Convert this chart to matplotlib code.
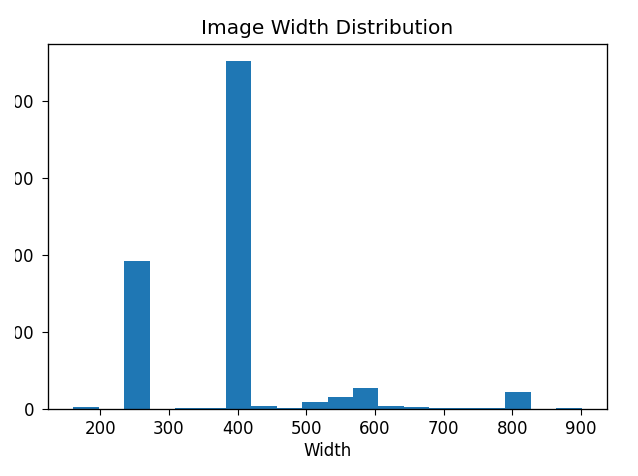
import numpy as np
import matplotlib
matplotlib.use('Agg')
from matplotlib import pyplot as plt
from matplotlib.transforms import Bbox, TransformedBbox

# гистограмма ширины изображений (20 бинов)
min_width = 161
max_width = 901
n_bins = 20
counts = [4, 0, 384, 0, 2, 2, 902, 7, 2, 16,
          29, 52, 7, 3, 1, 1, 1, 42, 0, 1]
y_ticks = [0, 200, 400, 600, 800]

bin_edges = np.linspace(min_width, max_width, n_bins + 1)

# скриншот немного увеличен, поэтому шрифты и засечки крупнее
plt.rcParams['font.size'] = 12
plt.rcParams['axes.titlesize'] = 14.5
plt.rcParams['xtick.major.size'] = 4.2
plt.rcParams['ytick.major.size'] = 4.2
plt.rcParams['xtick.major.pad'] = 4.2
plt.rcParams['ytick.major.pad'] = 5.8
plt.rcParams['axes.linewidth'] = 0.95

fig = plt.figure(figsize=(6.38, 4.76), dpi=100)
ax = fig.add_axes([48 / 638, 1 - 408.5 / 476, 559 / 638, 364.5 / 476])

ax.hist(bin_edges[:-1], bins=bin_edges, weights=counts, color='#1f77b4')
ax.set_title('Image Width Distribution', pad=7)
ax.set_xlabel('Width', labelpad=3)
ax.set_yticks(y_ticks)

# скриншот обрезан слева - подписи оси y видны не полностью
clip = TransformedBbox(Bbox([[14.5 / 638, 0], [1, 1]]), fig.transFigure)
for lbl in ax.get_yticklabels():
    lbl.set_clip_box(clip)
    lbl.set_clip_on(True)

fig.savefig('out.png', dpi=100)
